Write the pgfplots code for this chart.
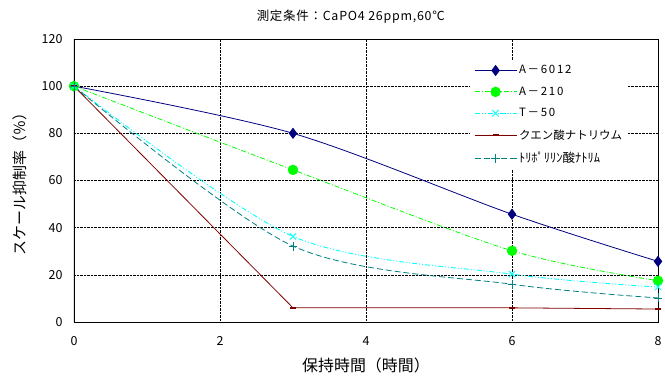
\documentclass[border=0pt]{standalone}
\usepackage{pgfplots}
\pgfplotsset{compat=1.18}
\usepackage{fontspec}
\setmainfont{Noto Sans CJK JP}
\definecolor{cNavy}{RGB}{0,0,128}
\definecolor{cGreen}{RGB}{0,255,0}
\definecolor{cCyan}{RGB}{0,255,255}
\definecolor{cRed}{RGB}{128,0,0}
\definecolor{cTeal}{RGB}{0,128,128}
\newcommand{\wide}[1]{{\addfontfeatures{LetterSpace=15}#1}}
\begin{document}
\begin{tikzpicture}
\useasboundingbox (-74bp,-54bp) rectangle (591bp,322bp);
\begin{axis}[
  at={(0,0)}, anchor=south west,
  scale only axis, width=584bp, height=283bp,
  xmin=0, xmax=8, ymin=0, ymax=120,
  xtick={0,2,4,6,8}, ytick={0,20,...,120},
  major tick length=0pt,
  grid=major,
  grid style={black, densely dotted, line width=0.6pt},
  axis line style={black, line width=0.8pt},
  /pgf/number format/assume math mode=true,
  ticklabel style={font=\fontsize{12.5}{14}\selectfont},
  xticklabel style={yshift=-11bp},
  yticklabel style={xshift=-8bp},
  title={\addfontfeatures{LetterSpace=6}測定条件：CaPO4 26ppm,60℃},
  title style={at={(axis description cs:0.474,1)}, anchor=base, yshift=13bp, font=\fontsize{12.5}{14}\selectfont},
  xlabel={保持時間（時間）},
  xlabel style={at={(axis description cs:0.5,0)}, anchor=base, yshift=-49bp, font=\fontsize{16}{18}\selectfont},
  ylabel={スケール抑制率（％）},
  ylabel style={at={(axis description cs:-0.0925,0.5)}, anchor=center, font=\fontsize{15}{17}\selectfont},
  legend style={at={(axis description cs:0.678,0.928)}, anchor=north west, draw=none, fill=white,
    font=\fontsize{11.5}{13}\selectfont, row sep=7.5bp, inner xsep=4bp, inner ysep=4bp},
  legend cell align=left,
  legend image code/.code={\draw[mark repeat=2,mark phase=2] plot coordinates {(0bp,0bp) (21bp,0bp) (42bp,0bp)};},
]
\addplot[cNavy, line width=0.8pt, smooth, mark=diamond*, mark size=5pt, mark options={solid, fill=cNavy}]
  coordinates {(0,100) (3,80) (6,45.7) (8,25.7)};
\addlegendentry{\wide{A－6012}}
\addplot[cGreen, line width=0.8pt, smooth, dash pattern=on 5pt off 2pt on 1pt off 2pt, mark=*, mark size=4.8pt, mark options={solid, fill=cGreen}]
  coordinates {(0,100) (3,64.5) (6,30.2) (8,17.5)};
\addlegendentry{\wide{A－210}}
\addplot[cCyan, line width=0.9pt, smooth, dash pattern=on 5pt off 2pt on 1pt off 2pt on 1pt off 2pt, mark=x, mark size=4.5pt, mark options={solid, line width=0.9pt}]
  coordinates {(0,100) (3,36.3) (6,20.3) (8,14.8)};
\addlegendentry{\wide{T－50}}
\addplot[cRed, line width=0.8pt, mark=-, mark size=3pt, mark options={solid, line width=2pt}]
  coordinates {(0,100) (3,6) (6,6) (8,5.5)};
\addlegendentry{クエン酸ナトリウム}
\addplot[cTeal, line width=0.8pt, smooth, dash pattern=on 6pt off 3pt, mark=+, mark size=4.5pt, mark options={solid, line width=0.8pt}]
  coordinates {(0,100) (3,32.2) (6,16) (8,10.2)};
\addlegendentry{\fontsize{12.5}{13}\selectfont ﾄﾘﾎﾟﾘﾘﾝ酸ﾅﾄﾘﾑ}
\draw[black, line width=1.6pt] (rel axis cs:0,0) -- (rel axis cs:0,1);
\end{axis}
\end{tikzpicture}
\end{document}
